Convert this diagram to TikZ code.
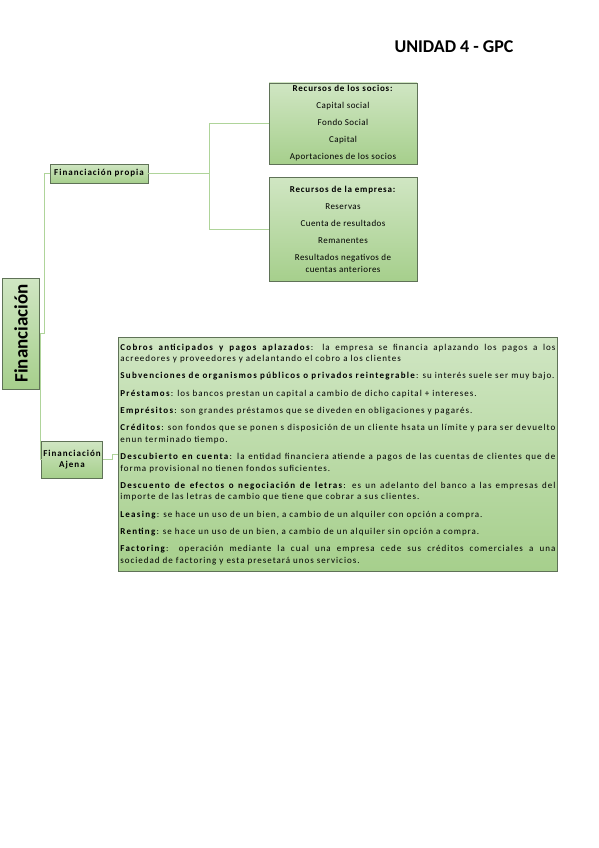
\documentclass[tikz,border=0pt]{standalone}
\usepackage{fontspec}
\setmainfont{Carlito}
\newfontfamily\listfont[UprightFeatures={LetterSpace=11}, BoldFeatures={LetterSpace=14}]{Carlito}
\newfontfamily\socfont[UprightFeatures={LetterSpace=5}, BoldFeatures={LetterSpace=9}]{Carlito}
\newfontfamily\boxfont[BoldFeatures={LetterSpace=11}]{Carlito}
\definecolor{boxtop}{HTML}{D0E6C3}
\definecolor{boxbot}{HTML}{A6CF8C}
\definecolor{boxline}{HTML}{5F7257}
\definecolor{linkgreen}{HTML}{AFD49A}

\begin{document}
\begin{tikzpicture}[x=1pt, y=-1pt,
  box/.style={draw=boxline, top color=boxtop, bottom color=boxbot, line width=0.8pt, inner sep=2pt},
  link/.style={draw=linkgreen, line width=1pt},
  small/.style={font=\boxfont\fontsize{9}{11}\selectfont\bfseries, align=center},
  items/.style={align=center, font=\socfont\fontsize{9}{17}\selectfont}
]
\useasboundingbox[fill=white] (0,0) rectangle (599,848);

% Title
\node[font=\fontsize{18}{20}\selectfont\bfseries] (title) at (454,47) {UNIDAD 4 - GPC};

% Root and first level
\node[box, rotate=90, minimum width=111pt, minimum height=37pt, font=\fontsize{19}{22}\selectfont\bfseries] (fin) at (21,333.5) {Financiación};
\node[box, small, minimum width=98pt, minimum height=19pt] (propia) at (99,173.5) {Financiación propia};
\node[box, small, minimum width=61pt, minimum height=37pt] (ajena) at (72,459.5) {Financiación\\Ajena};

% Own resources
\node[box, items, minimum width=148pt, minimum height=81pt] (socios) at (343,123.5) {\textbf{Recursos de los socios:}\\Capital social\\Fondo Social\\Capital\\Aportaciones de los socios};
\node[box, items, minimum width=148pt, minimum height=104pt] (empresa) at (343,229) {\textbf{Recursos de la empresa:}\\Reservas\\Cuenta de resultados\\Remanentes\\Resultados negativos de\\[-5pt]cuentas anteriores};

% External resources
\node[box, anchor=north west, minimum height=234pt, text width=435pt, align=justify, font=\listfont\fontsize{9}{11.5}\selectfont] (lista) at (118,337) {%
\textbf{Cobros anticipados y pagos aplazados}: la empresa se financia aplazando los pagos a los\linebreak acreedores y proveedores y adelantando el cobro a los clientes\\[5.8pt]
\textbf{Subvenciones de organismos públicos o privados reintegrable}: su interés suele ser muy bajo.\\[5.8pt]
\textbf{Préstamos}: los bancos prestan un capital a cambio de dicho capital + intereses.\\[5.8pt]
\textbf{Emprésitos}: son grandes préstamos que se diveden en obligaciones y pagarés.\\[5.8pt]
\textbf{Créditos}: son fondos que se ponen s disposición de un cliente hsata un límite y para ser devuelto\linebreak enun terminado tiempo.\\[5.8pt]
\textbf{Descubierto en cuenta}: la entidad financiera atiende a pagos de las cuentas de clientes que de\linebreak forma provisional no tienen fondos suficientes.\\[5.8pt]
\textbf{Descuento de efectos o negociación de letras}: es un adelanto del banco a las empresas del\linebreak importe de las letras de cambio que tiene que cobrar a sus clientes.\\[5.8pt]
\textbf{Leasing}: se hace un uso de un bien, a cambio de un alquiler con opción a compra.\\[5.8pt]
\textbf{Renting}: se hace un uso de un bien, a cambio de un alquiler sin opción a compra.\\[5.8pt]
\textbf{Factoring}: operación mediante la cual una empresa cede sus créditos comerciales a una\linebreak sociedad de factoring y esta presetará unos servicios.};

% Connectors
\coordinate (j1) at (44,333.5);
\coordinate (j2) at (40.5,333.5);
\coordinate (j3) at (209,173.5);
\coordinate (j4) at (112,459.5);
\draw[link] (fin.south) -- (j1) |- (propia.west);
\draw[link] (j2) |- (ajena.west);
\draw[link] (propia.east) -- (j3) |- (socios.west);
\draw[link] (j3) |- (empresa.west);
\draw[link] (ajena.east) -- (j4) |- (lista.west);
\end{tikzpicture}
\end{document}
